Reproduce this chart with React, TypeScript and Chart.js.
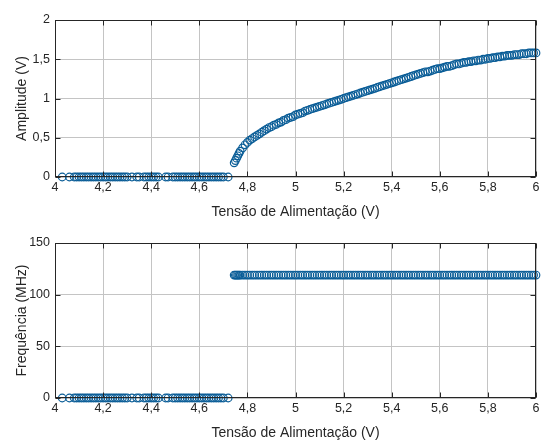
import React, { useEffect, useRef } from 'react';
import { Chart, registerables } from 'chart.js';

Chart.register(...registerables);

// ---- data ----
const VOLTS_OFF = [
  4.03, 4.06, 4.08, 4.09, 4.1, 4.11, 4.12, 4.13, 4.14, 4.15, 4.16, 4.17, 4.18, 4.19, 4.2,
  4.21, 4.22, 4.23, 4.24, 4.25, 4.26, 4.27, 4.28, 4.29, 4.3, 4.32, 4.34, 4.35, 4.37, 4.38,
  4.39, 4.4, 4.41, 4.42, 4.43, 4.46, 4.47, 4.49, 4.5, 4.51, 4.52, 4.53, 4.54, 4.55, 4.56,
  4.57, 4.58, 4.59, 4.6, 4.61, 4.62, 4.63, 4.64, 4.65, 4.66, 4.67, 4.68, 4.69, 4.7, 4.72,
];
const AMP_OFF = [
  0, 0, 0, 0, 0, 0, 0, 0, 0, 0, 0, 0, 0, 0, 0,
  0, 0, 0, 0, 0, 0, 0, 0, 0, 0, 0, 0, 0, 0, 0,
  0, 0, 0, 0, 0, 0, 0, 0, 0, 0, 0, 0, 0, 0, 0,
  0, 0, 0, 0, 0, 0, 0, 0, 0, 0, 0, 0, 0, 0, 0,
];
const FREQ_OFF = [
  0, 0, 0, 0, 0, 0, 0, 0, 0, 0, 0, 0, 0, 0, 0,
  0, 0, 0, 0, 0, 0, 0, 0, 0, 0, 0, 0, 0, 0, 0,
  0, 0, 0, 0, 0, 0, 0, 0, 0, 0, 0, 0, 0, 0, 0,
  0, 0, 0, 0, 0, 0, 0, 0, 0, 0, 0, 0, 0, 0, 0,
];
const VOLTS_ON = [
  4.745, 4.75, 4.755, 4.76, 4.765, 4.77,
  4.78, 4.79, 4.8, 4.81, 4.82, 4.83, 4.84, 4.85, 4.86, 4.87, 4.88, 4.89, 4.9,
  4.91, 4.92, 4.93, 4.94, 4.95, 4.96, 4.97, 4.98, 4.99, 5.0,
  5.01, 5.02, 5.03, 5.04, 5.05, 5.06, 5.07, 5.08, 5.09, 5.1,
  5.11, 5.12, 5.13, 5.14, 5.15, 5.16, 5.17, 5.18, 5.19, 5.2,
  5.21, 5.22, 5.23, 5.24, 5.25, 5.26, 5.27, 5.28, 5.29, 5.3,
  5.31, 5.32, 5.33, 5.34, 5.35, 5.36, 5.37, 5.38, 5.39, 5.4,
  5.41, 5.42, 5.43, 5.44, 5.45, 5.46, 5.47, 5.48, 5.49, 5.5,
  5.51, 5.52, 5.53, 5.54, 5.55, 5.56, 5.57, 5.58, 5.59, 5.6,
  5.61, 5.62, 5.63, 5.64, 5.65, 5.66, 5.67, 5.68, 5.69, 5.7,
  5.71, 5.72, 5.73, 5.74, 5.75, 5.76, 5.77, 5.78, 5.79, 5.8,
  5.81, 5.82, 5.83, 5.84, 5.85, 5.86, 5.87, 5.88, 5.89, 5.9,
  5.91, 5.92, 5.93, 5.94, 5.95, 5.96, 5.97, 5.98, 5.99, 6.0,
];
const AMP_ON = [
  0.18, 0.21, 0.24, 0.27, 0.3, 0.33,
  0.37, 0.41, 0.44, 0.47, 0.49, 0.51, 0.53, 0.55, 0.57, 0.59, 0.61, 0.63, 0.64,
  0.66, 0.67, 0.69, 0.7, 0.72, 0.73, 0.75, 0.76, 0.77, 0.79,
  0.8, 0.81, 0.82, 0.84, 0.85, 0.86, 0.87, 0.88, 0.89, 0.9,
  0.91, 0.92, 0.93, 0.94, 0.95, 0.96, 0.97, 0.98, 0.99, 1.0,
  1.01, 1.02, 1.03, 1.04, 1.05, 1.06, 1.07, 1.08, 1.09, 1.1,
  1.11, 1.12, 1.13, 1.14, 1.15, 1.16, 1.17, 1.18, 1.19, 1.2,
  1.21, 1.22, 1.23, 1.24, 1.25, 1.26, 1.27, 1.28, 1.29, 1.3,
  1.31, 1.32, 1.33, 1.34, 1.34, 1.35, 1.36, 1.37, 1.38, 1.38,
  1.39, 1.4, 1.41, 1.41, 1.42, 1.43, 1.44, 1.44, 1.45, 1.46,
  1.46, 1.47, 1.47, 1.48, 1.48, 1.49, 1.49, 1.5, 1.5, 1.51,
  1.51, 1.52, 1.52, 1.53, 1.53, 1.54, 1.54, 1.55, 1.55, 1.55,
  1.56, 1.56, 1.56, 1.57, 1.57, 1.57, 1.58, 1.58, 1.58, 1.58,
];
const FREQ_ON = [
  119, 119, 119, 119, 119, 119,
  119, 119, 119, 119, 119, 119, 119, 119, 119, 119, 119, 119, 119,
  119, 119, 119, 119, 119, 119, 119, 119, 119, 119,
  119, 119, 119, 119, 119, 119, 119, 119, 119, 119,
  119, 119, 119, 119, 119, 119, 119, 119, 119, 119,
  119, 119, 119, 119, 119, 119, 119, 119, 119, 119,
  119, 119, 119, 119, 119, 119, 119, 119, 119, 119,
  119, 119, 119, 119, 119, 119, 119, 119, 119, 119,
  119, 119, 119, 119, 119, 119, 119, 119, 119, 119,
  119, 119, 119, 119, 119, 119, 119, 119, 119, 119,
  119, 119, 119, 119, 119, 119, 119, 119, 119, 119,
  119, 119, 119, 119, 119, 119, 119, 119, 119, 119,
  119, 119, 119, 119, 119, 119, 119, 119, 119, 119,
];
const X_TICKS = [4, 4.2, 4.4, 4.6, 4.8, 5, 5.2, 5.4, 5.6, 5.8, 6];
const AMP_TICKS = [0, 0.5, 1, 1.5, 2];
const FREQ_TICKS = [0, 50, 100, 150];

const X_TITLE = 'Tensão de Alimentação (V)';
const AMP_TITLE = 'Amplitude (V)';
const FREQ_TITLE = 'Frequência (MHz)';

// ---- styles ----
const FONT = "'Liberation Sans', Arial, Helvetica, sans-serif";
const TEXT = '#262626';
const GRID = '#c4c4c4';
const MARK = '#0a5d97';
const W = 543;
const H = 221;

const fmt = (v: number) => String(v).replace('.', ',');

const boxPlugin = {
  id: 'matlabBox',
  afterDraw(chart: any) {
    const { ctx, chartArea } = chart;
    const l = Math.round(chartArea.left) + 0.5;
    const r = Math.round(chartArea.right) - 0.5;
    const t = Math.round(chartArea.top) + 0.5;
    const b = Math.round(chartArea.bottom) - 0.5;
    ctx.save();
    ctx.strokeStyle = TEXT;
    ctx.lineWidth = 1;
    ctx.strokeRect(l, t, r - l, b - t);
    const tl = 5;
    ctx.beginPath();
    chart.scales.x.ticks.forEach((tk: any) => {
      const x = Math.round(chart.scales.x.getPixelForValue(tk.value)) + 0.5;
      ctx.moveTo(x, b);
      ctx.lineTo(x, b - tl);
      ctx.moveTo(x, t);
      ctx.lineTo(x, t + tl);
    });
    chart.scales.y.ticks.forEach((tk: any) => {
      const y = Math.round(chart.scales.y.getPixelForValue(tk.value)) + 0.5;
      ctx.moveTo(l, y);
      ctx.lineTo(l + tl, y);
      ctx.moveTo(r, y);
      ctx.lineTo(r - tl, y);
    });
    ctx.stroke();
    ctx.restore();
  },
};

type PanelProps = {
  xs: number[];
  ys: number[];
  yTicks: number[];
  yTitle: string;
  padTop: number;
  top: number;
};

function Panel({ xs, ys, yTicks, yTitle, padTop, top }: PanelProps) {
  const ref = useRef<HTMLCanvasElement | null>(null);
  useEffect(() => {
    if (!ref.current) return;
    const points = xs.map((x, i) => ({ x, y: ys[i] }));
    const chart = new Chart(ref.current, {
      type: 'scatter',
      data: {
        datasets: [
          {
            data: points,
            pointStyle: 'circle',
            pointRadius: 3.8,
            pointBorderWidth: 1.2,
            borderColor: MARK,
            backgroundColor: 'rgba(0,0,0,0)',
            pointBackgroundColor: 'rgba(0,0,0,0)',
            pointBorderColor: MARK,
            showLine: false,
            clip: false as any,
          } as any,
        ],
      },
      options: {
        responsive: false,
        animation: false,
        events: [],
        layout: { padding: { top: padTop, right: 7, left: 0, bottom: 0 } },
        plugins: { legend: { display: false }, tooltip: { enabled: false } },
        scales: {
          x: {
            type: 'linear',
            min: X_TICKS[0],
            max: X_TICKS[X_TICKS.length - 1],
            afterBuildTicks: (s: any) => {
              s.ticks = X_TICKS.map((v) => ({ value: v }));
            },
            afterFit: (s: any) => {
              s.height = 44;
            },
            ticks: {
              callback: (v: any) => fmt(Number(v)),
              font: { family: FONT, size: 12.5 },
              color: TEXT,
              padding: 3,
              maxRotation: 0,
              autoSkip: false,
            },
            grid: { color: GRID, drawTicks: false, lineWidth: 1 },
            border: { display: false },
            title: {
              display: true,
              text: X_TITLE,
              font: { family: FONT, size: 14 },
              color: TEXT,
              padding: { top: 0, bottom: 0 },
            },
          },
          y: {
            type: 'linear',
            min: yTicks[0],
            max: yTicks[yTicks.length - 1],
            afterBuildTicks: (s: any) => {
              s.ticks = yTicks.map((v) => ({ value: v }));
            },
            afterFit: (s: any) => {
              s.width = 55;
            },
            ticks: {
              callback: (v: any) => fmt(Number(v)),
              font: { family: FONT, size: 12.5 },
              color: TEXT,
              padding: 5,
              autoSkip: false,
            },
            grid: { color: GRID, drawTicks: false, lineWidth: 1 },
            border: { display: false },
            title: {
              display: true,
              text: yTitle,
              font: { family: FONT, size: 14 },
              color: TEXT,
              padding: { top: 14, bottom: 0 },
            },
          },
        },
      } as any,
      plugins: [boxPlugin],
    });
    return () => chart.destroy();
  }, [xs, ys, yTicks, yTitle, padTop]);

  return (
    <canvas
      ref={ref}
      width={W}
      height={H}
      style={{ position: 'absolute', left: 0, top, width: W, height: H }}
    />
  );
}

const AMP_X = [...VOLTS_OFF, ...VOLTS_ON];
const AMP_Y = [...AMP_OFF, ...AMP_ON];
const FREQ_X = [...VOLTS_OFF, ...VOLTS_ON];
const FREQ_Y = [...FREQ_OFF, ...FREQ_ON];

export default function App() {
  return (
    <div
      style={{
        position: 'fixed',
        left: 0,
        top: 0,
        width: W,
        height: 442,
        background: '#ffffff',
        overflow: 'hidden',
      }}
    >
      <Panel xs={AMP_X} ys={AMP_Y} yTicks={AMP_TICKS} yTitle={AMP_TITLE} padTop={20} top={0} />
      <Panel xs={FREQ_X} ys={FREQ_Y} yTicks={FREQ_TICKS} yTitle={FREQ_TITLE} padTop={22} top={221} />
    </div>
  );
}
